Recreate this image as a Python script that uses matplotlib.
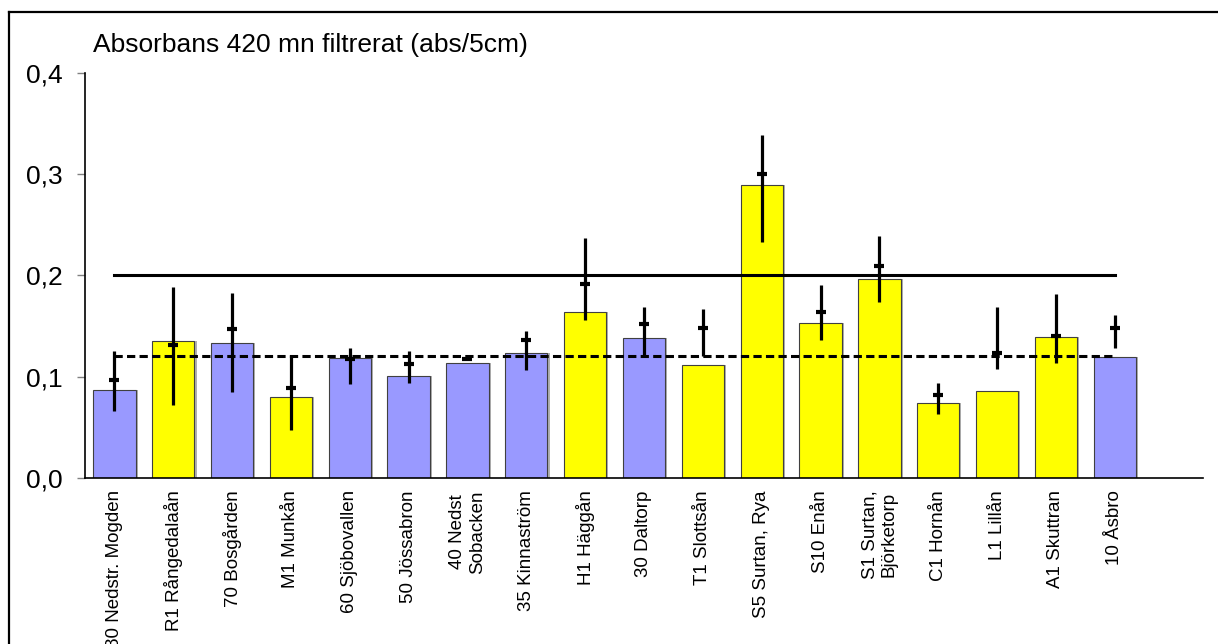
import matplotlib
matplotlib.use('Agg')
import matplotlib.pyplot as plt
from matplotlib.lines import Line2D
from matplotlib.ticker import FuncFormatter

# Stations along the x axis
stations = ['80 Nedstr. Mogden', 'R1 Rångedalaån', '70 Bosgården', 'M1 Munkån',
            '60 Sjöbovallen', '50 Jössabron', '40 Nedst\nSobacken', '35 Kinnaström',
            'H1 Häggån', '30 Daltorp', 'T1 Slottsån', 'S5 Surtan, Rya', 'S10 Enån',
            'S1 Surtan,\nBjörketorp', 'C1 Hornån', 'L1 Lillån', 'A1 Skuttran', '10 Åsbro']
# 'b' = blue bar, 'y' = yellow bar
groups = ['b', 'y', 'b', 'y', 'b', 'b', 'b', 'b', 'y', 'b', 'y', 'y', 'y', 'y', 'y', 'y', 'y', 'b']

# Bar values
absorbans = [0.0865, 0.135, 0.133, 0.080, 0.118, 0.101, 0.113, 0.123, 0.164, 0.138,
             0.111, 0.290, 0.1535, 0.197, 0.074, 0.0855, 0.139, 0.119]

# Range lines (low/high) and the short marker on each
range_low = [0.066, 0.072, 0.085, 0.047, 0.093, 0.094, 0.1165, 0.107, 0.156, 0.120,
             0.120, 0.233, 0.136, 0.174, 0.063, 0.108, 0.113, 0.128]
range_high = [0.125, 0.189, 0.183, 0.121, 0.128, 0.125, 0.1195, 0.145, 0.237, 0.169,
              0.167, 0.339, 0.191, 0.239, 0.094, 0.169, 0.182, 0.161]
range_mark = [0.097, 0.131, 0.147, 0.089, 0.117, 0.112, 0.117, 0.136, 0.192, 0.152,
              0.148, 0.300, 0.164, 0.209, 0.082, 0.123, 0.140, 0.148]

# Reference levels
level_high = 0.2
level_low = 0.12

colors = {'b': '#9999FF', 'y': '#FFFF00'}

plt.rcParams['font.family'] = ['Liberation Sans', 'DejaVu Sans']

fig = plt.figure(figsize=(12.18, 6.44), dpi=100)
ax = fig.add_axes([85 / 1218, 1 - 477.7 / 644, (1203 - 85) / 1218, (477.7 - 73.3) / 644])

x = list(range(len(stations)))
# light shadow to the right of each bar, then the bar itself
ax.bar([i + 0.035 for i in x], absorbans, width=0.72, color='#b0b0b0', linewidth=0, zorder=1)
ax.bar(x, absorbans, width=0.72, color=[colors[g] for g in groups],
       edgecolor='#404040', linewidth=0.8, zorder=2)

ax.plot([x[0], x[-1]], [level_high, level_high], color='black', lw=2.2, zorder=3)
ax.plot([x[0], x[-1]], [level_low, level_low], color='black', lw=2.2,
        linestyle=(0, (2.7, 1.4)), zorder=3)

ax.vlines(x, range_low, range_high, color='black', lw=2.3, zorder=4)
ax.plot(x, range_mark, linestyle='none', marker='_', markersize=7.5,
        markeredgewidth=3, color='black', zorder=5)

ax.set_xlim(-0.5, 18.5)
ax.set_ylim(0, 0.4)
ax.set_yticks([0.0, 0.1, 0.2, 0.3, 0.4])
ax.yaxis.set_major_formatter(FuncFormatter(lambda v, p: f'{v:.1f}'.replace('.', ',')))
ax.tick_params(axis='y', direction='out', length=6, width=1, color='#808080',
               labelsize=19, pad=10)
ax.set_xticks(x)
ax.set_xticklabels(stations, rotation=90, fontsize=13.5, va='top', ha='center',
                   multialignment='center', linespacing=1.2)
ax.tick_params(axis='x', length=0, pad=9)

for s in ['top', 'right']:
    ax.spines[s].set_visible(False)
ax.spines['left'].set_linewidth(1.2)
ax.spines['bottom'].set_linewidth(1.2)

fig.text(93 / 1218, 1 - 52 / 644, 'Absorbans 420 mn filtrerat (abs/5cm)',
         fontsize=19, va='baseline', ha='left')

# outer frame (only left and top edges fall inside the picture)
fig.add_artist(Line2D([9 / 1218, 9 / 1218], [0, 1 - 12 / 644], color='black', lw=1.6))
fig.add_artist(Line2D([9 / 1218, 1], [1 - 12 / 644, 1 - 12 / 644], color='black', lw=1.6))

fig.savefig('out.png', dpi=100)
